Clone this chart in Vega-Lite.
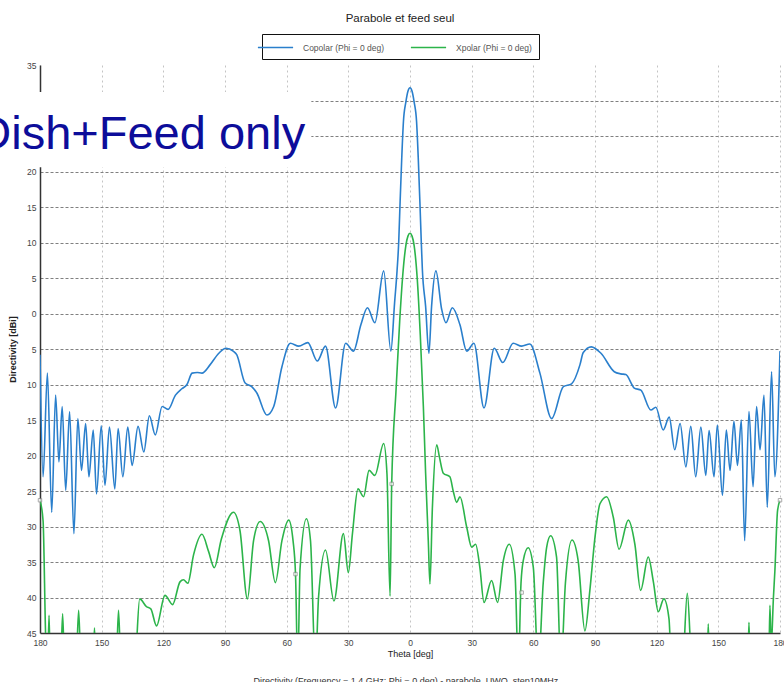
{
  "$schema": "https://vega.github.io/schema/vega-lite/v6.json",
  "autosize": "none",
  "width": 740,
  "height": 568,
  "padding": {"left": 40, "top": 65, "right": 4, "bottom": 49},
  "background": "white",
  "title": {"text": "Parabole et feed seul", "fontSize": 11.5, "fontWeight": "normal", "font": "Liberation Sans", "color": "#222", "anchor": "middle", "dx": -10, "offset": 9},
  "config": {
    "view": {"stroke": null},
    "axis": {"labelFont": "Liberation Sans", "titleFont": "Liberation Sans", "labelFontSize": 8.5, "labelColor": "#444", "titleFontSize": 9, "titleColor": "#222", "ticks": false, "domainColor": "#333", "domainWidth": 1.5, "labelOverlap": false, "labelFlush": false}
  },
  "encoding": {
    "x": {"field": "theta", "type": "quantitative", "scale": {"domain": [-180, 180], "nice": false, "zero": false},
      "axis": {"values": [-180,-150,-120,-90,-60,-30,0,30,60,90,120,150,180], "labelExpr": "abs(datum.value)", "labelFlush": false, "title": "Theta [deg]", "titleFontWeight": "normal", "labelPadding": 5, "titlePadding": 3, "grid": true, "gridColor": "#c4c4c4", "gridDash": [2, 3], "gridWidth": 1}},
    "y": {"field": "dB", "type": "quantitative", "scale": {"domain": [-45, 35], "nice": false, "zero": false},
      "axis": {"values": [-45,-40,-35,-30,-25,-20,-15,-10,-5,0,5,10,15,20,25,30,35], "labelExpr": "abs(datum.value)", "labelFlush": false, "title": "Directivity [dBi]", "titleFontWeight": "bold", "labelPadding": 4, "titlePadding": 9, "grid": true, "gridColor": "#808080", "gridDash": [3, 2], "gridWidth": 1, "gridOpacity": {"condition": {"test": "datum.value == 35 || datum.value == -45", "value": 0}, "value": 1}}}
  },
  "layer": [
    {
      "data": {"values": [
        {"theta":-180,"dB":-5.8},{"theta":-178.5,"dB":-23},{"theta":-176.4,"dB":-8.4},{"theta":-174.3,"dB":-28},{"theta":-172.4,"dB":-11.5},{"theta":-170.8,"dB":-20.9},{"theta":-169.2,"dB":-13.1},{"theta":-167.5,"dB":-24.9},{"theta":-165.6,"dB":-13.8},{"theta":-163.5,"dB":-31},{"theta":-161.6,"dB":-14.8},{"theta":-159.8,"dB":-22.1},{"theta":-157.8,"dB":-15.5},{"theta":-156.2,"dB":-23},{"theta":-154.1,"dB":-16.4},{"theta":-152.5,"dB":-25.4},{"theta":-150.2,"dB":-15.8},{"theta":-148.4,"dB":-24.2},{"theta":-146.2,"dB":-16},{"theta":-143.6,"dB":-24.7},{"theta":-142,"dB":-16.2},{"theta":-139.7,"dB":-23},{"theta":-137.3,"dB":-16},{"theta":-135.2,"dB":-21.4},{"theta":-132.3,"dB":-15.9},{"theta":-129.5,"dB":-19.5},{"theta":-126.8,"dB":-14.4},{"theta":-123.9,"dB":-17.1},{"theta":-120.6,"dB":-13.1},{"theta":-117.7,"dB":-13.5},{"theta":-114.1,"dB":-11.5},{"theta":-111,"dB":-10.6},{"theta":-108.5,"dB":-10},{"theta":-106,"dB":-8.4},{"theta":-103.5,"dB":-8.3},{"theta":-101.2,"dB":-8.4},{"theta":-97.2,"dB":-7.2},{"theta":-93,"dB":-5.6},{"theta":-89.5,"dB":-4.9},{"theta":-86,"dB":-5.3},{"theta":-84.3,"dB":-5.8},{"theta":-80.2,"dB":-9.8},{"theta":-77,"dB":-10.3},{"theta":-74.5,"dB":-11.2},{"theta":-69.6,"dB":-14.3},{"theta":-66.3,"dB":-13.1},{"theta":-62.3,"dB":-7.5},{"theta":-58.2,"dB":-4.2},{"theta":-54.1,"dB":-4.6},{"theta":-49.7,"dB":-4.1},{"theta":-45.1,"dB":-6.7},{"theta":-41.1,"dB":-4.6},{"theta":-36.2,"dB":-13.3},{"theta":-31.3,"dB":-4.2},{"theta":-27.5,"dB":-5.3},{"theta":-23.9,"dB":-1.6},{"theta":-20.7,"dB":0.8},{"theta":-17.1,"dB":-1.3},{"theta":-12.8,"dB":6},{"theta":-9.3,"dB":-5.3},{"theta":-7.5,"dB":1.5},{"theta":-6.3,"dB":6},{"theta":-5.5,"dB":10},{"theta":-4.9,"dB":15},{"theta":-4,"dB":22},{"theta":-3.2,"dB":27},{"theta":-2,"dB":29.8},{"theta":-1,"dB":31.3},{"theta":0,"dB":31.8},{"theta":1,"dB":31.3},{"theta":2,"dB":29.8},{"theta":3.2,"dB":27},{"theta":4,"dB":22},{"theta":4.9,"dB":15},{"theta":5.5,"dB":10},{"theta":6,"dB":6.3},{"theta":7.6,"dB":1},{"theta":9.2,"dB":-5.6},{"theta":10.5,"dB":1},{"theta":12.6,"dB":6},{"theta":15.4,"dB":0.6},{"theta":17.5,"dB":-1.3},{"theta":20.6,"dB":0.8},{"theta":24.3,"dB":-1.6},{"theta":27.6,"dB":-5.3},{"theta":31.1,"dB":-4.2},{"theta":36,"dB":-13.3},{"theta":41,"dB":-4.9},{"theta":45.1,"dB":-6.9},{"theta":50.2,"dB":-4.2},{"theta":54.3,"dB":-4.6},{"theta":58.3,"dB":-4.3},{"theta":63.2,"dB":-8.4},{"theta":68.9,"dB":-14.8},{"theta":74.6,"dB":-10.3},{"theta":78.6,"dB":-9.9},{"theta":82.7,"dB":-7.2},{"theta":84.3,"dB":-5.5},{"theta":88.2,"dB":-4.7},{"theta":92.9,"dB":-5.6},{"theta":99.4,"dB":-8.2},{"theta":102.6,"dB":-8.5},{"theta":105,"dB":-8.6},{"theta":109.1,"dB":-10.5},{"theta":112.3,"dB":-10.8},{"theta":117.2,"dB":-13.6},{"theta":119.6,"dB":-13.2},{"theta":123.2,"dB":-16.4},{"theta":126.1,"dB":-14.6},{"theta":128.8,"dB":-19.2},{"theta":131.4,"dB":-15.5},{"theta":134.2,"dB":-21.6},{"theta":136.6,"dB":-15.9},{"theta":139,"dB":-23},{"theta":141.5,"dB":-16},{"theta":143.9,"dB":-22.8},{"theta":145.5,"dB":-16.5},{"theta":147.9,"dB":-23},{"theta":149.5,"dB":-15.7},{"theta":152,"dB":-25.6},{"theta":153.9,"dB":-16.4},{"theta":155.7,"dB":-22.1},{"theta":157.6,"dB":-15.2},{"theta":159.3,"dB":-21.4},{"theta":161.2,"dB":-15},{"theta":162.8,"dB":-32},{"theta":164.9,"dB":-13.8},{"theta":166.9,"dB":-24.4},{"theta":168.6,"dB":-13.1},{"theta":170.3,"dB":-19.2},{"theta":172.2,"dB":-11.5},{"theta":173.8,"dB":-27.3},{"theta":175.9,"dB":-8.2},{"theta":177.5,"dB":-23},{"theta":180,"dB":-5.3}
      ]},
      "mark": {"type": "line", "interpolate": "monotone", "strokeWidth": 1.6, "clip": true},
      "encoding": {
        "color": {"datum": "Copolar (Phi = 0 deg)", "type": "nominal",
          "scale": {"domain": ["Copolar (Phi = 0 deg)", "Xpolar (Phi = 0 deg)"], "range": ["#2a7fcc", "#2cb44a"]},
          "legend": {"title": null, "orient": "none", "legendX": 222, "legendY": -31, "direction": "horizontal", "symbolType": "M-3.2,0H3.2", "symbolSize": 121, "symbolStrokeWidth": 1.5, "labelFont": "Liberation Sans", "labelFontSize": 8.5, "labelColor": "#555", "labelOffset": 21, "columnPadding": 22, "padding": 7, "strokeColor": "#111", "fillColor": "white", "cornerRadius": 0}}
      }
    },
    {
      "data": {"values": [
        {"theta":-180,"dB":-26.3},{"theta":-178.5,"dB":-29.2},{"theta":-177.2,"dB":-46},{"theta":-176.3,"dB":-50},{"theta":-175.6,"dB":-42.5},{"theta":-175,"dB":-50},{"theta":-170,"dB":-50},{"theta":-169,"dB":-42.3},{"theta":-168,"dB":-50},{"theta":-162.5,"dB":-50},{"theta":-161.2,"dB":-41.8},{"theta":-160,"dB":-50},{"theta":-154.3,"dB":-50},{"theta":-153.5,"dB":-44.3},{"theta":-152.7,"dB":-50},{"theta":-143,"dB":-50},{"theta":-141.8,"dB":-41.8},{"theta":-140.6,"dB":-50},{"theta":-134,"dB":-50},{"theta":-131.5,"dB":-40.2},{"theta":-128.2,"dB":-41.3},{"theta":-126.1,"dB":-41.6},{"theta":-123.3,"dB":-44},{"theta":-119.2,"dB":-39.7},{"theta":-115.5,"dB":-41},{"theta":-111.9,"dB":-37.8},{"theta":-110.2,"dB":-37.5},{"theta":-108.1,"dB":-38},{"theta":-105.3,"dB":-34},{"theta":-101.2,"dB":-31.1},{"theta":-98,"dB":-33.5},{"theta":-95.2,"dB":-35.8},{"theta":-91.8,"dB":-31.8},{"theta":-85.9,"dB":-28},{"theta":-82.7,"dB":-30.6},{"theta":-79.1,"dB":-40.2},{"theta":-76.1,"dB":-32},{"theta":-72.9,"dB":-29.3},{"theta":-68.8,"dB":-32},{"theta":-65.5,"dB":-37.9},{"theta":-62.3,"dB":-32},{"theta":-59,"dB":-29.1},{"theta":-56.9,"dB":-32},{"theta":-55.7,"dB":-36.7},{"theta":-54.6,"dB":-50},{"theta":-53.5,"dB":-36},{"theta":-50.4,"dB":-28.9},{"theta":-48.4,"dB":-32},{"theta":-46,"dB":-50},{"theta":-44.5,"dB":-40},{"theta":-41.1,"dB":-33.3},{"theta":-37,"dB":-40.5},{"theta":-32.4,"dB":-31},{"theta":-30,"dB":-36.5},{"theta":-28,"dB":-31},{"theta":-25.3,"dB":-24.7},{"theta":-22.6,"dB":-25.8},{"theta":-19.9,"dB":-22.1},{"theta":-17.1,"dB":-22.8},{"theta":-12.8,"dB":-18.3},{"theta":-11.2,"dB":-22.6},{"theta":-9.7,"dB":-39.8},{"theta":-8.9,"dB":-24},{"theta":-6.8,"dB":-10.8},{"theta":-5,"dB":-1},{"theta":-3.5,"dB":5.5},{"theta":-2,"dB":9.6},{"theta":-1,"dB":10.9},{"theta":0,"dB":11.3},{"theta":1,"dB":10.9},{"theta":2,"dB":9.6},{"theta":3.5,"dB":5},{"theta":5,"dB":-3},{"theta":6.5,"dB":-13.1},{"theta":7.6,"dB":-22.5},{"theta":8.9,"dB":-32},{"theta":9.7,"dB":-38.1},{"theta":10.9,"dB":-27.3},{"theta":13,"dB":-18.5},{"theta":14.3,"dB":-20.2},{"theta":16.2,"dB":-22.5},{"theta":19.4,"dB":-23},{"theta":21.1,"dB":-25.1},{"theta":22.7,"dB":-26.6},{"theta":24.3,"dB":-25.8},{"theta":27.6,"dB":-30.1},{"theta":30,"dB":-32.9},{"theta":31.9,"dB":-32.5},{"theta":34,"dB":-35.8},{"theta":36,"dB":-40.7},{"theta":39.7,"dB":-37.6},{"theta":42.6,"dB":-40.7},{"theta":45.4,"dB":-34.8},{"theta":48.3,"dB":-32.5},{"theta":51.1,"dB":-36.7},{"theta":52.7,"dB":-50},{"theta":54,"dB":-38},{"theta":55.1,"dB":-34.8},{"theta":57.5,"dB":-33},{"theta":60,"dB":-35.8},{"theta":62.4,"dB":-50},{"theta":64.8,"dB":-38},{"theta":66.5,"dB":-32.9},{"theta":68.4,"dB":-31.3},{"theta":71.3,"dB":-34.3},{"theta":73.4,"dB":-50},{"theta":75.6,"dB":-38},{"theta":78.8,"dB":-31.9},{"theta":81.8,"dB":-34.8},{"theta":85.1,"dB":-44.7},{"theta":87.5,"dB":-39},{"theta":90,"dB":-31.5},{"theta":92.4,"dB":-26.8},{"theta":95.7,"dB":-25.8},{"theta":98.9,"dB":-28.7},{"theta":101.7,"dB":-33.2},{"theta":106.2,"dB":-29.1},{"theta":109.4,"dB":-32.5},{"theta":112.2,"dB":-39},{"theta":115.9,"dB":-34.3},{"theta":118.4,"dB":-37.8},{"theta":120.8,"dB":-42},{"theta":123.5,"dB":-40.2},{"theta":126,"dB":-43},{"theta":127.3,"dB":-50},{"theta":132.5,"dB":-50},{"theta":134.9,"dB":-39.4},{"theta":137.3,"dB":-50},{"theta":144.5,"dB":-50},{"theta":145.1,"dB":-43.7},{"theta":145.7,"dB":-50},{"theta":164.3,"dB":-50},{"theta":164.9,"dB":-43.5},{"theta":165.5,"dB":-50},{"theta":174.5,"dB":-50},{"theta":175.1,"dB":-41.1},{"theta":175.7,"dB":-47},{"theta":176.8,"dB":-40},{"theta":177.5,"dB":-36.3},{"theta":178.8,"dB":-27.8},{"theta":180,"dB":-26.3}
      ]},
      "mark": {"type": "line", "interpolate": "monotone", "strokeWidth": 1.6, "clip": true},
      "encoding": {
        "color": {"datum": "Xpolar (Phi = 0 deg)", "type": "nominal"}
      }
    },
    {
      "data": {"values": [
        {"theta":-180,"dB":-26.3},{"theta":-8.9,"dB":-24},{"theta":-55.7,"dB":-36.7},{"theta":54.3,"dB":-39.3},{"theta":180,"dB":-26.3}
      ]},
      "mark": {"type": "point", "shape": "square", "size": 12, "filled": true, "fill": "white", "stroke": "#888", "strokeWidth": 1, "clip": false}
    },
    {
      "data": {"values": [{"theta": -210, "theta2": -48, "dB": 31.2, "dB2": 20.6}]},
      "mark": {"type": "rect", "fill": "white", "clip": false},
      "encoding": {
        "x2": {"field": "theta2"},
        "y2": {"field": "dB2"}
      }
    },
    {
      "data": {"values": [{"theta": -51, "dB": 23.2, "label": "Dish+Feed only"}]},
      "mark": {"type": "text", "align": "right", "baseline": "alphabetic", "font": "Liberation Sans", "fontSize": 47, "color": "#0d0d9a", "clip": false},
      "encoding": {
        "text": {"field": "label"}
      }
    },
    {
      "data": {"values": [{"theta": -2, "dB": -51.8, "label": "Directivity (Frequency = 1.4 GHz; Phi = 0 deg) - parabole_UWO_step10MHz"}]},
      "mark": {"type": "text", "align": "center", "baseline": "middle", "font": "Liberation Sans", "fontSize": 9, "color": "#333", "clip": false},
      "encoding": {
        "text": {"field": "label"}
      }
    }
  ]
}
